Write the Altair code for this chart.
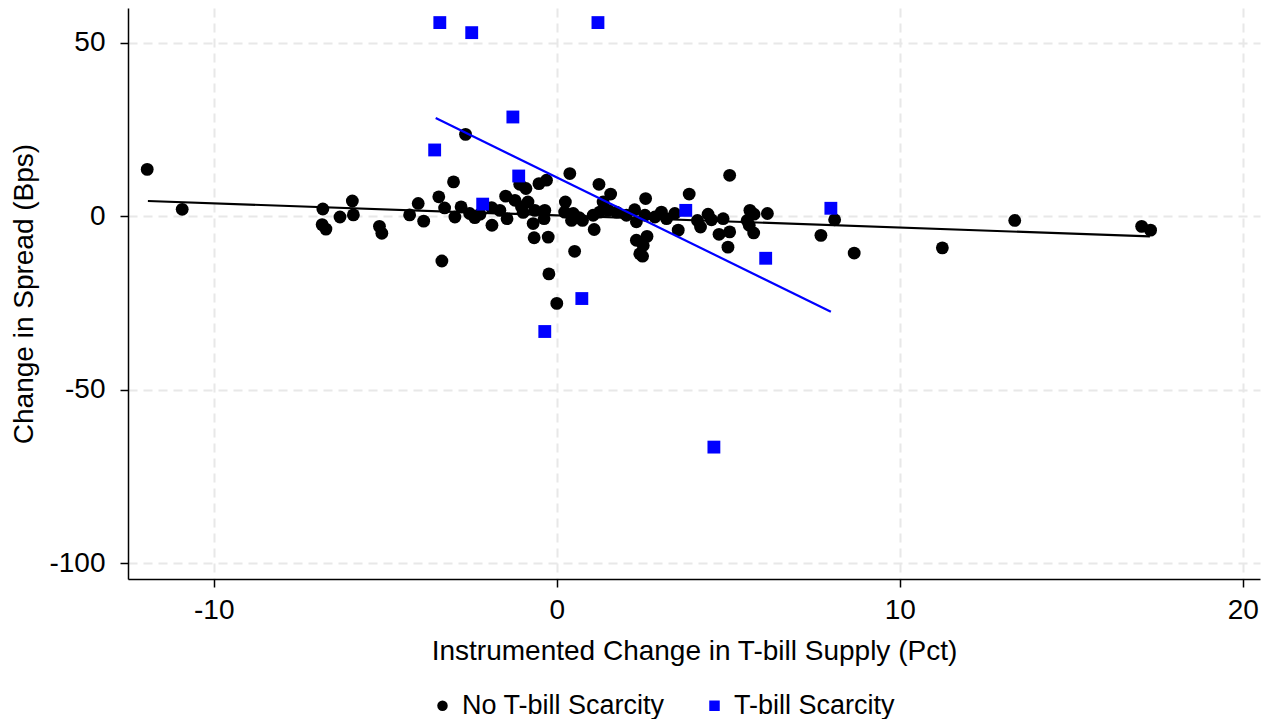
import altair as alt
import pandas as pd

groups = ["No T-bill Scarcity", "T-bill Scarcity"]

# No T-bill scarcity observations (black circles)
no_x = [-11.94, -10.92, -6.82, -6.84, -6.73, -6.32, -5.96, -5.93, -5.17, -5.10,
        -4.29, -4.04, -3.88, -2.66, 0.38, -3.01, -0.52, -0.30, 1.23, 1.57,
        2.59, -3.44, -3.27, -2.97, -2.79, -2.54, -2.39, -2.24, -1.89, -1.90,
        -1.66, -1.49, -1.45, -1.22, -1.08, -0.90, -1.03, -0.84, -0.98, -0.64,
        -0.69, -0.35, -0.37, -0.66, -0.25, -3.35, 0.52, -0.23, 0.00, 0.25,
        0.23, 0.48, 0.43, 0.75, 0.65, 1.09, 1.06, 1.25, 1.35, 1.50,
        1.74, 2.03, 2.27, 2.32, 2.57, 2.32, 2.63, 2.52, 2.42, 2.50,
        2.86, 3.05, 3.20, 3.44, 3.54, 3.86, 4.10, 4.19, 4.41, 4.51,
        4.85, 4.73, 5.04, 4.99, 5.04, 5.63, 5.75, 5.55, 5.61, 5.74,
        6.14, 8.10, 7.70, 8.67, 11.24, 13.35, 17.05, 17.31]
no_y = [13.5, 2.0, 2.1, -2.4, -3.7, -0.2, 4.4, 0.4, -2.9, -4.9,
        0.4, 3.7, -1.4, 23.6, 12.3, 9.9, 9.4, 10.4, 9.2, 6.4,
        5.1, 5.6, 2.4, -0.2, 2.7, 0.8, -0.4, 0.6, -2.6, 2.5,
        1.7, 5.8, -0.7, 4.6, 9.2, 8.0, 2.7, 4.1, 1.1, 1.7,
        -2.1, 1.7, -0.7, -6.2, -6.0, -12.9, -10.1, -16.6, -25.1, 4.1,
        1.2, 0.8, -1.2, -1.2, -0.4, -3.8, 0.3, 1.2, 4.1, 1.7,
        1.2, 0.3, 1.9, -1.6, 0.3, -6.9, -5.8, -8.4, -10.8, -11.5,
        -0.2, 1.2, -0.7, 0.8, -4.0, 6.4, -1.2, -3.1, 0.6, -1.0,
        -0.7, -5.2, -4.5, -8.9, 11.8, 1.7, 0.6, -1.2, -2.6, -4.8,
        0.8, -1.0, -5.5, -10.6, -9.1, -1.2, -2.9, -4.0]

# T-bill scarcity observations (blue squares)
sc_x = [-3.41, -2.48, 1.20, -1.28, -3.56, -1.11, -2.16, 3.76, 7.99, 6.09, -0.35, 0.73, 4.58]
sc_y = [55.8, 52.9, 55.8, 28.6, 19.1, 11.6, 3.5, 1.7, 2.3, -12.1, -33.2, -23.7, -66.5]

# Fitted lines (endpoints)
fit_no_x = [-11.92, 17.29]
fit_no_y = [4.4, -5.8]
fit_sc_x = [-3.53, 7.99]
fit_sc_y = [28.3, -27.5]

x_ticks = [-10, 0, 10, 20]
y_ticks = [-100, -50, 0, 50]

pts = pd.DataFrame({
    "x": no_x + sc_x,
    "y": no_y + sc_y,
    "group": [groups[0]] * len(no_x) + [groups[1]] * len(sc_x),
})
fit_no = pd.DataFrame({"x": fit_no_x, "y": fit_no_y})
fit_sc = pd.DataFrame({"x": fit_sc_x, "y": fit_sc_y})

xs = alt.Scale(domain=[-12.5, 20.5], nice=False, zero=False)
ys = alt.Scale(domain=[-104.5, 60], nice=False, zero=False)

x_axis = alt.Axis(values=x_ticks, title="Instrumented Change in T-bill Supply (Pct)",
                  labelExpr="'' + datum.value", labelPadding=9, titlePadding=13)
y_axis = alt.Axis(values=y_ticks, title="Change in Spread (Bps)",
                  labelExpr="'' + datum.value", labelPadding=15, titlePadding=10)

points = alt.Chart(pts).mark_point(filled=True, opacity=1, size=165, strokeWidth=0).encode(
    x=alt.X("x:Q", scale=xs, axis=x_axis),
    y=alt.Y("y:Q", scale=ys, axis=y_axis),
    color=alt.Color("group:N", scale=alt.Scale(domain=groups, range=["#000000", "#0000ff"]),
                    legend=alt.Legend(title=None)),
    shape=alt.Shape("group:N", scale=alt.Scale(domain=groups, range=["circle", "square"]),
                    legend=alt.Legend(title=None)),
)

line_no = alt.Chart(fit_no).mark_line(color="#000000", strokeWidth=2.2).encode(
    x=alt.X("x:Q", scale=xs), y=alt.Y("y:Q", scale=ys))
line_sc = alt.Chart(fit_sc).mark_line(color="#0000ff", strokeWidth=2.2).encode(
    x=alt.X("x:Q", scale=xs), y=alt.Y("y:Q", scale=ys))

chart = alt.layer(points, line_no, line_sc).properties(
    width=1132, height=571,
    autosize=alt.AutoSizeParams(type="none"),
    padding={"left": 120, "top": 0, "right": 4, "bottom": 140},
).configure_view(stroke=None).configure_axis(
    domainColor="black", domainWidth=1.5, tickColor="black", tickWidth=1.5, tickSize=8,
    labelFont="Liberation Sans", labelFontSize=28, labelColor="black",
    titleFont="Liberation Sans", titleFontSize=28, titleFontWeight="normal", titleColor="black",
    gridColor="#e8e8e8", gridDash=[9, 6], gridWidth=2,
).configure_legend(
    orient="none", legendX=301, legendY=684, direction="horizontal",
    labelFont="Liberation Sans", labelFontSize=27, labelColor="black", labelLimit=0,
    symbolSize=110, labelOffset=6, columnPadding=36, padding=0,
    symbolStrokeWidth=0,
)

chart.save("out.html", embed_options={"renderer": "svg", "actions": False})
